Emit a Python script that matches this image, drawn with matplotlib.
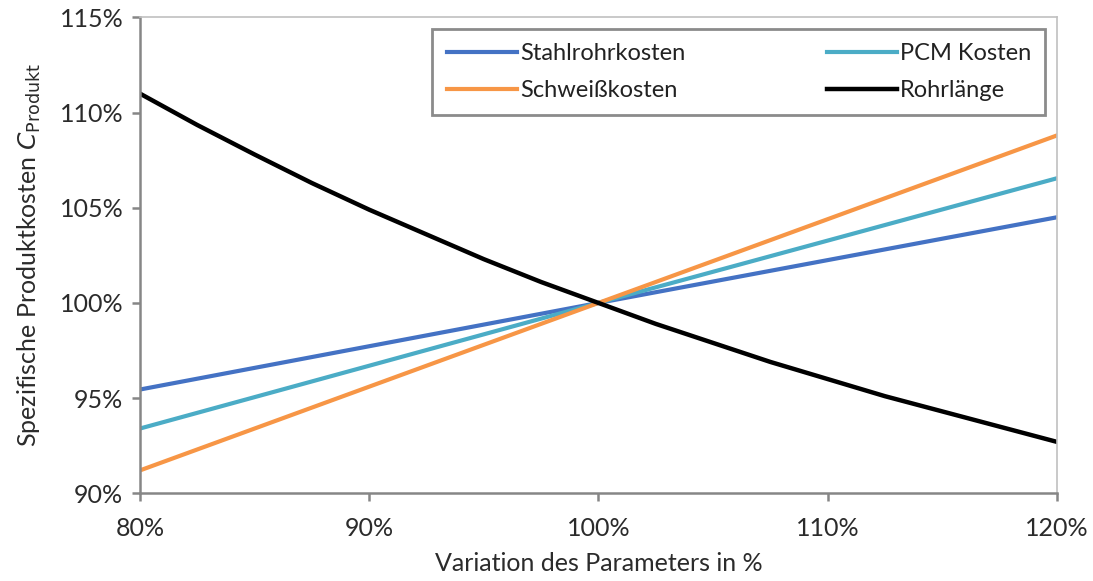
import matplotlib.pyplot as plt
from matplotlib.ticker import FuncFormatter

plt.rcParams['font.family'] = ['Lato', 'DejaVu Sans']

# variation of the parameter in %
x_lin = [80, 100, 120]
stahlrohr = [95.45, 100.0, 104.5]
pcm = [93.4, 100.0, 106.55]
schweiss = [91.2, 100.0, 108.8]

x_rohr = [80, 82.5, 85, 87.5, 90, 92.5, 95, 97.5, 100,
          102.5, 105, 107.5, 110, 112.5, 115, 117.5, 120]
rohrlaenge = [111.0, 109.35, 107.8, 106.3, 104.9, 103.6, 102.3, 101.1, 100.0,
              98.9, 97.9, 96.9, 96.0, 95.1, 94.3, 93.5, 92.7]

fig = plt.figure(figsize=(10.93, 5.81), dpi=100)
ax = fig.add_axes([0.128, 0.151, 0.839, 0.819])

l1, = ax.plot(x_lin, stahlrohr, color='#4472c4', lw=3, label='Stahlrohrkosten')
l2, = ax.plot(x_lin, pcm, color='#4bacc6', lw=3, label='PCM Kosten')
l3, = ax.plot(x_lin, schweiss, color='#f79646', lw=3, label='Schweißkosten')
l4, = ax.plot(x_rohr, rohrlaenge, color='black', lw=3.2, label='Rohrlänge')

ax.set_xlim(80, 120)
ax.set_ylim(90, 115)
ax.set_xticks([80, 90, 100, 110, 120])
ax.set_yticks([90, 95, 100, 105, 110, 115])
pct = FuncFormatter(lambda v, pos: f'{v:.0f}%')
ax.xaxis.set_major_formatter(pct)
ax.yaxis.set_major_formatter(pct)

for s in ['left', 'bottom']:
    ax.spines[s].set_color('#868686')
    ax.spines[s].set_linewidth(1.8)
for s in ['top', 'right']:
    ax.spines[s].set_color('#c0c0c0')
    ax.spines[s].set_linewidth(1.2)

ax.tick_params(axis='both', direction='out', length=6, width=1.8,
               color='#868686', labelsize=18, labelcolor='#2b2b2b')
ax.tick_params(axis='x', pad=11)
ax.tick_params(axis='y', pad=6)

ax.set_xlabel('Variation des Parameters in %', fontsize=18, color='#2b2b2b', labelpad=9)
ax.set_ylabel('Spezifische Produktkosten $C_{\\mathrm{Produkt}}$', fontsize=18,
              color='#2b2b2b', labelpad=12)

leg = ax.legend(handles=[l1, l3, l2, l4], ncol=2, loc='upper right',
                bbox_to_anchor=(0.995, 0.99), fontsize=17, frameon=True,
                fancybox=False, handlelength=3.0, handletextpad=0.1,
                columnspacing=6.0, borderpad=0.6, labelspacing=0.65,
                borderaxespad=0.3)
leg.get_frame().set_edgecolor('#6e6e6e')
leg.get_frame().set_linewidth(2)
for t in leg.get_texts():
    t.set_color('#222222')

fig.savefig('out.png', dpi=100)
